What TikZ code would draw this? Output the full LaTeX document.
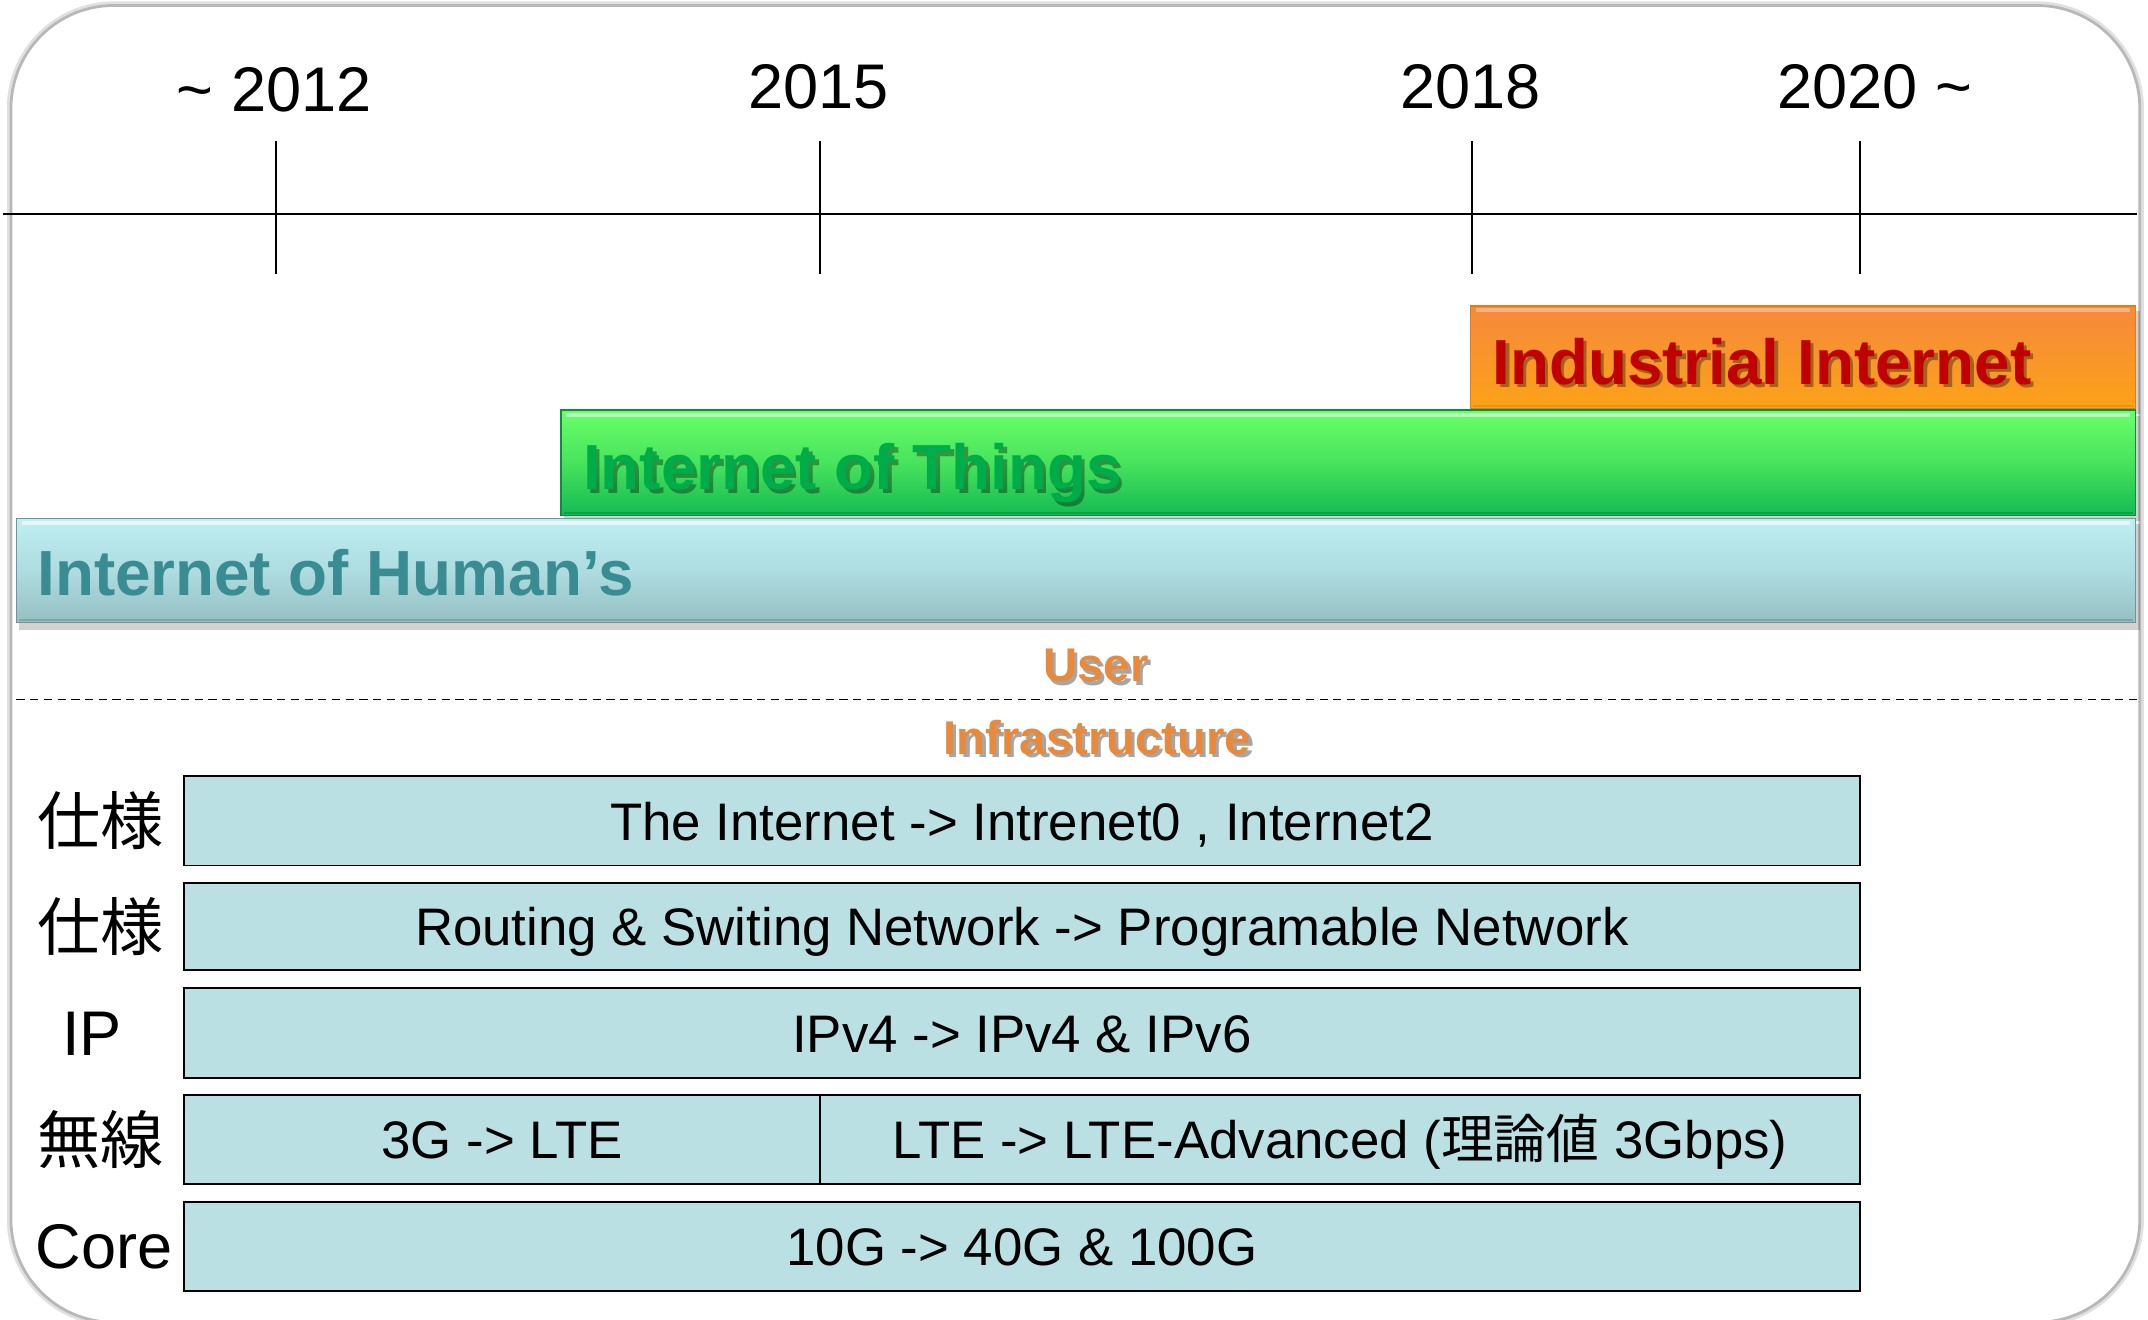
\documentclass[tikz,border=0pt]{standalone}
\usepackage{fontspec}
\setmainfont{Liberation Sans}
\newfontfamily\cjk{Noto Sans CJK JP}
\definecolor{rowfill}{HTML}{BAE0E4}
\definecolor{indtop}{HTML}{F5893C}
\definecolor{indbot}{HTML}{FCA218}
\definecolor{indline}{HTML}{E07C1A}
\definecolor{indtext}{HTML}{C00000}
\definecolor{iottop}{HTML}{6AFF6A}
\definecolor{iotmid}{HTML}{48E35C}
\definecolor{iotbot}{HTML}{14BA52}
\definecolor{iotline}{HTML}{0A8F3E}
\definecolor{iottext}{HTML}{00AC4A}
\definecolor{humtop}{HTML}{BDEFF3}
\definecolor{hummid}{HTML}{AEDCE0}
\definecolor{humbot}{HTML}{96BFC2}
\definecolor{humline}{HTML}{6E9599}
\definecolor{humtext}{HTML}{3A8C93}
\definecolor{orgtext}{HTML}{E8893B}
\begin{document}
\begin{tikzpicture}[x=1pt,y=-1pt,
  yearlbl/.style={font=\fontsize{46}{50}\selectfont, anchor=base, inner sep=0pt},
  bigtext/.style={font=\fontsize{46.5}{50}\selectfont\bfseries, anchor=base west, inner sep=0pt},
  midtext/.style={font=\fontsize{34.5}{38}\selectfont\bfseries, anchor=base, inner sep=0pt},
  txtshadow/.style={text=black, opacity=0.35},
  rowbox/.style={draw=black, line width=1.4pt, fill=rowfill},
  rowtext/.style={font=\fontsize{38.5}{42}\selectfont, anchor=base, inner sep=0pt},
  sidelbl/.style={font=\fontsize{46}{50}\selectfont, anchor=base, inner sep=0pt},
  barshadow/.style={fill=black, opacity=0.18},
  tick/.style={line width=1.3pt}
]
\useasboundingbox (0,0) rectangle (1566,962.3);
% outer frame
\draw[black!12, line width=6pt, rounded corners=75pt] (8,4) rectangle (1560,964);
\draw[black!28, line width=2pt, fill=white, rounded corners=75pt] (8,4) rectangle (1560,964);

% timeline
\draw[tick] (2,156) -- (1558,156);
\foreach \xx in {201,598,1073,1356} \draw[tick] (\xx,103) -- (\xx,200);
\node[yearlbl] (y2012) at (200,81) {\textasciitilde\ 2012};
\node[yearlbl] (y2015) at (597,79) {2015};
\node[yearlbl] (y2018) at (1072,79) {2018};
\node[yearlbl] (y2020) at (1367,79) {2020 \textasciitilde};

% Industrial Internet bar
\fill[barshadow] (1074,227) rectangle (1560,302);
\path[top color=indtop, bottom color=indbot, draw=indline, line width=1pt] (1072,223) rectangle (1557,298);
\draw[white, opacity=0.35, line width=2.5pt] (1076,226) -- (1553,226);
\draw[indline, opacity=0.5, line width=2pt] (1074,296) -- (1555,296);
\node[bigtext, txtshadow] (indsh) at (1090.5,282.5) {Industrial Internet};
\node[bigtext, text=indtext] (ind) at (1088,280) {Industrial Internet};

% Internet of Things bar
\fill[barshadow] (411,303) rectangle (1560,380);
\path[top color=iottop, bottom color=iotbot, middle color=iotmid, draw=iotline, line width=1pt] (409,299) rectangle (1557,376);
\draw[white, opacity=0.55, line width=3pt] (413,302.5) -- (1553,302.5);
\draw[iotline, opacity=0.6, line width=2pt] (411,374) -- (1555,374);
\node[bigtext, txtshadow] (iotsh) at (427.5,359.5) {Internet of Things};
\node[bigtext, text=iottext] (iot) at (425,357) {Internet of Things};

% Internet of Human's bar
\fill[barshadow] (14,382) rectangle (1560,459);
\path[top color=humtop, bottom color=humbot, middle color=hummid, draw=humline, line width=1pt] (12,378) rectangle (1557,454);
\draw[white, opacity=0.6, line width=3pt] (16,381.5) -- (1553,381.5);
\draw[humline, opacity=0.6, line width=2pt] (14,452) -- (1555,452);
\node[bigtext, text=humtext] (hum) at (27,434) {Internet of Human’s};

% User / Infrastructure
\node[midtext, txtshadow] (usersh) at (801.5,499.5) {User};
\node[midtext, text=orgtext] (user) at (799,497) {User};
\draw[line width=1.3pt, dash pattern=on 6pt off 4pt] (12,510) -- (1558,510);
\node[midtext, txtshadow] (infsh) at (802.5,552.5) {Infrastructure};
\node[midtext, text=orgtext] (inf) at (800,550) {Infrastructure};

% rows
\path[rowbox] (134,566) rectangle (1356,631);
\path[rowbox] (134,644) rectangle (1356,707);
\path[rowbox] (134,720) rectangle (1356,786);
\path[rowbox] (134,798) rectangle (1356,863);
\draw[line width=1.2pt] (598,798) -- (598,863);
\path[rowbox] (134,876) rectangle (1356,941);

\node[rowtext] (r1) at (745,612.5) {The Internet -> Intrenet0 , Internet2};
\node[rowtext] (r2) at (745,689.5) {Routing \& Switing Network -> Programable Network};
\node[rowtext] (r3) at (745,767) {IPv4 -> IPv4 \& IPv6};
\node[rowtext] (r4a) at (366,844.5) {3G -> LTE};
\node[rowtext] (r4b) at (977,844.5) {LTE -> LTE-Advanced ({\cjk 理論値} 3Gbps)};
\node[rowtext] (r5) at (745,922.5) {10G -> 40G \& 100G};

% side labels
\node[sidelbl] (l1) at (73,615.5) {\cjk 仕様};
\node[sidelbl] (l2) at (73,693) {\cjk 仕様};
\node[sidelbl] (l3) at (67,769.5) {IP};
\node[sidelbl] (l4) at (73,848) {\cjk 無線};
\node[sidelbl] (l5) at (76,924.5) {Core};
\end{tikzpicture}
\end{document}
